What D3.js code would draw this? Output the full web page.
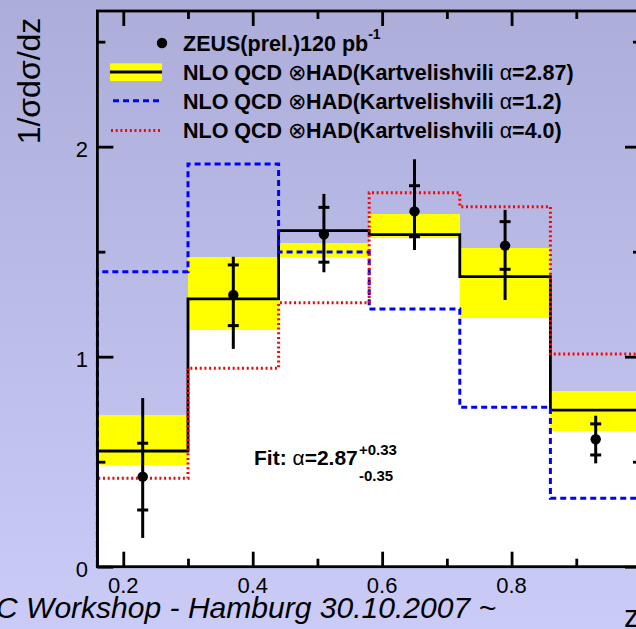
<!DOCTYPE html>
<html>
<head>
<meta charset="utf-8">
<script src="https://cdn.jsdelivr.net/npm/d3@7"></script>
<style>
  html, body { margin: 0; padding: 0; background: #c0c0ee; }
  svg { display: block; }
  text { font-family: "Liberation Sans", Arial, Helvetica, sans-serif; fill: #000; }
</style>
</head>
<body>
<svg id="chart" width="636" height="629"></svg>
<script>
// z bins of the D* fragmentation measurement
const binEdges = [0.16, 0.30, 0.44, 0.58, 0.72, 0.86, 1.00];
const binCentres = [0.23, 0.37, 0.51, 0.65, 0.79, 0.93];

// ZEUS (prel.) data: central value, statistical and total errors
const zeusVal   = [0.429, 1.294, 1.583, 1.692, 1.529, 0.607];
const zeusStatLo = [0.270, 1.148, 1.450, 1.571, 1.416, 0.532];
const zeusStatHi = [0.588, 1.437, 1.711, 1.814, 1.643, 0.680];
const zeusTotLo  = [0.137, 1.037, 1.402, 1.508, 1.270, 0.492];
const zeusTotHi  = [0.803, 1.476, 1.775, 1.940, 1.699, 0.719];

// NLO QCD predictions with Kartvelishvili fragmentation
const nloAlpha287 = [0.551, 1.275, 1.600, 1.581, 1.381, 0.746];
const nloBandLo   = [0.484, 1.130, 1.476, 1.568, 1.183, 0.646];
const nloBandHi   = [0.722, 1.476, 1.540, 1.680, 1.519, 0.837];
const nloAlpha12  = [1.405, 1.918, 1.499, 1.227, 0.759, 0.326];
const nloAlpha40  = [0.421, 0.945, 1.257, 1.781, 1.714, 1.013];

const xMajor = [0.2, 0.4, 0.6, 0.8, 1.0];
const xMinor = [0.3, 0.5, 0.7, 0.9];
const yMajor = [0, 1, 2];
const yMinor = [0.5, 1.5, 2.5];

const W = 636, H = 629;
const svg = d3.select("#chart");

// background gradient
const defs = svg.append("defs");
const grad = defs.append("linearGradient").attr("id", "bg")
  .attr("x1", 0).attr("y1", 0).attr("x2", 0).attr("y2", 1);
grad.append("stop").attr("offset", "0%").attr("stop-color", "#adadd9");
grad.append("stop").attr("offset", "100%").attr("stop-color", "#cbcbf8");
svg.append("rect").attr("width", W).attr("height", H).attr("fill", "url(#bg)");

const x = d3.scaleLinear().domain([0.16, 1.0]).range([97.4, 641]);
const y = d3.scaleLinear().domain([0, 2.646]).range([566.7, 11]);

const bins = binCentres.map((c, i) => ({ i, x0: binEdges[i], x1: binEdges[i + 1] }));

// step outline of a binned histogram, starting and ending at zero
function stepPath(vals, close) {
  const p = d3.path();
  p.moveTo(x(binEdges[0]), y(0));
  vals.forEach((v, i) => {
    p.lineTo(x(binEdges[i]), y(v));
    p.lineTo(x(binEdges[i + 1]), y(v));
  });
  p.lineTo(x(binEdges[binEdges.length - 1]), y(0));
  if (close) p.closePath();
  return p.toString();
}

// white area under the lower edge of the uncertainty band
svg.append("path").attr("d", stepPath(nloBandLo, true)).attr("fill", "#ffffff");

// yellow uncertainty band of the alpha = 2.87 prediction
svg.append("g").attr("shape-rendering", "crispEdges").selectAll("rect").data(bins).join("rect")
  .attr("x", d => x(d.x0)).attr("width", d => x(d.x1) - x(d.x0))
  .attr("y", d => y(nloBandHi[d.i])).attr("height", d => y(nloBandLo[d.i]) - y(nloBandHi[d.i]))
  .attr("fill", "#ffff00");

svg.append("path").attr("d", stepPath(nloAlpha287))
  .attr("fill", "none").attr("stroke", "#000").attr("stroke-width", 2.8);
svg.append("path").attr("d", stepPath(nloAlpha12))
  .attr("fill", "none").attr("stroke", "#0000ff").attr("stroke-width", 3)
  .attr("stroke-dasharray", "6,4");
svg.append("path").attr("d", stepPath(nloAlpha40))
  .attr("fill", "none").attr("stroke", "#ff0000").attr("stroke-width", 3)
  .attr("stroke-dasharray", "2,2.7");

// frame and axes
const axisG = svg.append("g");
function styleAxis(g) {
  g.select(".domain").remove();
  g.selectAll(".tick line").attr("stroke", "#000").attr("stroke-width", 2.8);
  g.selectAll(".tick text").remove();
}
axisG.append("g").attr("transform", `translate(0,${y(0)})`)
  .call(d3.axisBottom(x).tickValues(xMajor).tickSize(-15)).call(styleAxis);
axisG.append("g").attr("transform", `translate(0,${y(0)})`)
  .call(d3.axisBottom(x).tickValues(xMinor).tickSize(-8)).call(styleAxis);
axisG.append("g").attr("transform", `translate(0,${y.range()[1]})`)
  .call(d3.axisTop(x).tickValues(xMajor).tickSize(-15)).call(styleAxis);
axisG.append("g").attr("transform", `translate(0,${y.range()[1]})`)
  .call(d3.axisTop(x).tickValues(xMinor).tickSize(-8)).call(styleAxis);
axisG.append("g").attr("transform", `translate(${x(0.16)},0)`)
  .call(d3.axisLeft(y).tickValues(yMajor).tickSize(-16)).call(styleAxis);
axisG.append("g").attr("transform", `translate(${x(0.16)},0)`)
  .call(d3.axisLeft(y).tickValues(yMinor).tickSize(-8)).call(styleAxis);
axisG.append("g").attr("transform", `translate(${x(1.0)},0)`)
  .call(d3.axisRight(y).tickValues(yMajor).tickSize(-16)).call(styleAxis);
axisG.append("g").attr("transform", `translate(${x(1.0)},0)`)
  .call(d3.axisRight(y).tickValues(yMinor).tickSize(-8)).call(styleAxis);

svg.append("rect")
  .attr("x", x(0.16)).attr("y", y.range()[1])
  .attr("width", x(1.0) - x(0.16)).attr("height", y(0) - y.range()[1])
  .attr("fill", "none").attr("stroke", "#000").attr("stroke-width", 2.8);

// tick labels
svg.append("g").selectAll("text").data(xMajor.filter(v => v < 1)).join("text")
  .attr("x", d => x(d)).attr("y", y(0) + 26)
  .attr("text-anchor", "middle").attr("font-size", 22)
  .text(d => d3.format(".1f")(d));
svg.append("g").selectAll("text").data(yMajor).join("text")
  .attr("x", 88).attr("y", d => y(d) + 10)
  .attr("text-anchor", "end").attr("font-size", 22)
  .text(d => d);

// axis titles
svg.append("text")
  .attr("transform", "translate(40,81) rotate(-90)")
  .attr("text-anchor", "middle").attr("font-size", 32)
  .text("1/σdσ/dz");
svg.append("text").attr("x", 624).attr("y", 627).attr("font-size", 31).text("z");

// ZEUS data points with total and statistical error bars
const pts = svg.append("g");
pts.selectAll("line.tot").data(binCentres).join("line").attr("class", "tot")
  .attr("x1", d => x(d)).attr("x2", d => x(d))
  .attr("y1", (d, i) => y(zeusTotLo[i])).attr("y2", (d, i) => y(zeusTotHi[i]))
  .attr("stroke", "#000").attr("stroke-width", 3);
[zeusStatLo, zeusStatHi].forEach(arr => {
  pts.append("g").selectAll("line").data(binCentres).join("line")
    .attr("x1", d => x(d) - 5.5).attr("x2", d => x(d) + 5.5)
    .attr("y1", (d, i) => y(arr[i])).attr("y2", (d, i) => y(arr[i]))
    .attr("stroke", "#000").attr("stroke-width", 3);
});
pts.selectAll("circle").data(binCentres).join("circle")
  .attr("cx", d => x(d)).attr("cy", (d, i) => y(zeusVal[i])).attr("r", 5.2)
  .attr("fill", "#000");

// legend
const leg = svg.append("g");
const lx0 = 110, lx1 = 162, tx = 183, fs = 21.5;
leg.append("circle").attr("cx", 162).attr("cy", 43).attr("r", 5.2).attr("fill", "#000");
const t1 = leg.append("text").attr("x", tx).attr("y", 50.5).attr("font-size", fs).attr("font-weight", "bold");
t1.append("tspan").text("ZEUS(prel.)120 pb");
t1.append("tspan").attr("font-size", 14).attr("dy", -12).text("-1");

leg.append("rect").attr("x", lx0).attr("y", 63.3).attr("width", lx1 - lx0).attr("height", 17.7).attr("fill", "#ffff00");
leg.append("line").attr("x1", lx0).attr("x2", lx1).attr("y1", 72).attr("y2", 72)
  .attr("stroke", "#000").attr("stroke-width", 2.8);
leg.append("line").attr("x1", lx0 + 3).attr("x2", lx1).attr("y1", 100.7).attr("y2", 100.7)
  .attr("stroke", "#0000ff").attr("stroke-width", 3).attr("stroke-dasharray", "6,4");
leg.append("line").attr("x1", lx0 + 1).attr("x2", lx1).attr("y1", 130.5).attr("y2", 130.5)
  .attr("stroke", "#ff0000").attr("stroke-width", 3).attr("stroke-dasharray", "2,2.7");

const alphaLabels = ["2.87", "1.2", "4.0"];
alphaLabels.forEach((a, k) => {
  const t = leg.append("text").attr("x", tx).attr("y", 79.5 + k * 29.3)
    .attr("font-size", fs).attr("font-weight", "bold");
  t.append("tspan").text("NLO QCD ");
  t.append("tspan").attr("font-weight", "normal").text("⊗");
  t.append("tspan").text("HAD(Kartvelishvili ");
  t.append("tspan").attr("font-weight", "normal").text("α");
  t.append("tspan").text("=" + a + ")");
});

// fitted alpha
const fit = svg.append("g");
const ft = fit.append("text").attr("x", 254).attr("y", 465).attr("font-size", 21).attr("font-weight", "bold");
ft.append("tspan").text("Fit: ");
ft.append("tspan").attr("font-weight", "normal").text("α");
ft.append("tspan").text("=2.87");
fit.append("text").attr("x", 359).attr("y", 455).attr("font-size", 15).attr("font-weight", "bold").text("+0.33");
fit.append("text").attr("x", 359).attr("y", 481).attr("font-size", 15).attr("font-weight", "bold").text("-0.35");

// footer line
svg.append("text").attr("x", -4).attr("y", 618)
  .attr("font-family", "'Liberation Serif', 'DejaVu Serif', serif")
  .attr("font-style", "italic").attr("font-size", 30)
  .attr("textLength", 500).attr("lengthAdjust", "spacingAndGlyphs")
  .text("C Workshop - Hamburg 30.10.2007 ~");
</script>
</body>
</html>
